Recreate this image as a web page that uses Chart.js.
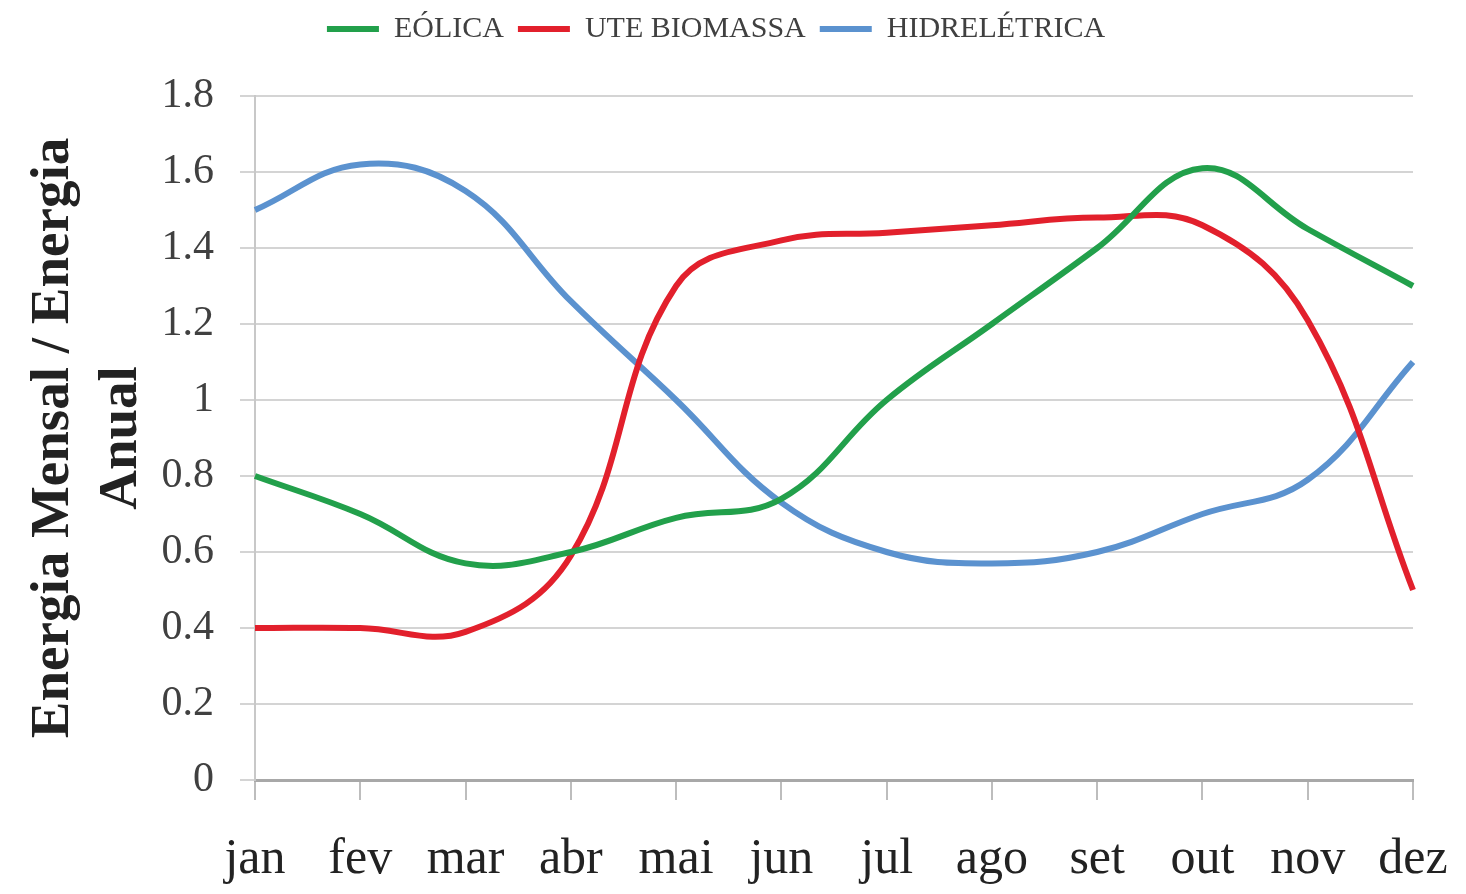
<!DOCTYPE html>
<html>
<head>
<meta charset="utf-8">
<script src="https://cdn.jsdelivr.net/npm/chart.js@4.4.0/dist/chart.umd.min.js"></script>
<style>
  html, body { margin: 0; padding: 0; background: #fff; }
  #wrap { width: 1466px; height: 894px; }
</style>
</head>
<body>
<div id="wrap"><canvas id="chart"></canvas></div>
<script>
const meses = ['jan', 'fev', 'mar', 'abr', 'mai', 'jun', 'jul', 'ago', 'set', 'out', 'nov', 'dez'];
const eolica = [0.80, 0.70, 0.57, 0.60, 0.69, 0.74, 1.00, 1.20, 1.40, 1.61, 1.45, 1.30];
const biomassa = [0.40, 0.40, 0.39, 0.59, 1.30, 1.42, 1.44, 1.46, 1.48, 1.46, 1.21, 0.50];
const hidreletrica = [1.50, 1.62, 1.55, 1.26, 1.00, 0.73, 0.60, 0.57, 0.60, 0.70, 0.79, 1.10];
const seriesNames = ['EÓLICA', 'UTE BIOMASSA', 'HIDRELÉTRICA'];
const seriesColors = ['#22a04b', '#e2202c', '#5b92cf'];

const serif = "'Liberation Serif', 'DejaVu Serif', serif";

function serie(i, arr){
  return {
    label: seriesNames[i],
    data: arr,
    borderColor: seriesColors[i],
    backgroundColor: seriesColors[i],
    borderWidth: 6,
    pointRadius: 0,
    tension: 0.4,
    fill: false
  };
}

// push the plot down under the legend
const legendGap = {
  id: 'legendGap',
  beforeInit: function(chart){
    const fit = chart.legend.fit;
    chart.legend.fit = function(){
      fit.bind(chart.legend)();
      this.height += 42;
    };
  }
};

let ctx = document.getElementById('chart').getContext('2d');
let myLineChart = new Chart(ctx, {
  type: 'line',
  data: {
    labels: meses,
    datasets: [serie(0, eolica), serie(1, biomassa), serie(2, hidreletrica)]
  },
  plugins: [legendGap],
  options: {
    responsive: true,
    maintainAspectRatio: false,
    animation: false,
    layout: { padding: { left: 19, right: 53, top: 0, bottom: 0 } },
    plugins: {
      tooltip: { enabled: false },
      legend: {
        position: 'top',
        labels: {
          usePointStyle: true,
          pointStyle: 'line',
          pointStyleWidth: 52,
          boxHeight: 6,
          padding: 14,
          color: '#404040',
          font: { family: serif, size: 30 }
        }
      }
    },
    scales: {
      x: {
        offset: false,
        grid: { drawOnChartArea: false, drawTicks: true, tickLength: 20, color: '#bdbdbd', lineWidth: 2 },
        border: { color: '#a8a8a8', width: 3 },
        ticks: { color: '#222', padding: 30, maxRotation: 0, autoSkip: false, font: { family: serif, size: 50 } },
        afterFit: function(scale){
          scale.height = 114;
          scale.paddingLeft = 0;
          scale.paddingRight = 0;
        }
      },
      y: {
        min: 0,
        max: 1.8,
        ticks: { stepSize: 0.2, color: '#404040', padding: 26, font: { family: serif, size: 42 },
                 callback: function(v){ return Math.round(v * 10) / 10; } },
        grid: { color: '#d4d4d4', lineWidth: 2, tickLength: 15 },
        border: { color: '#c8c8c8', width: 2 },
        title: {
          display: true,
          text: ['Energia Mensal / Energia', 'Anual'],
          color: '#222',
          font: { family: serif, size: 55, weight: 'bold', lineHeight: 1.25 },
          padding: 0
        },
        afterFit: function(scale){ scale.width = 236; }
      }
    }
  }
});
</script>
</body>
</html>
